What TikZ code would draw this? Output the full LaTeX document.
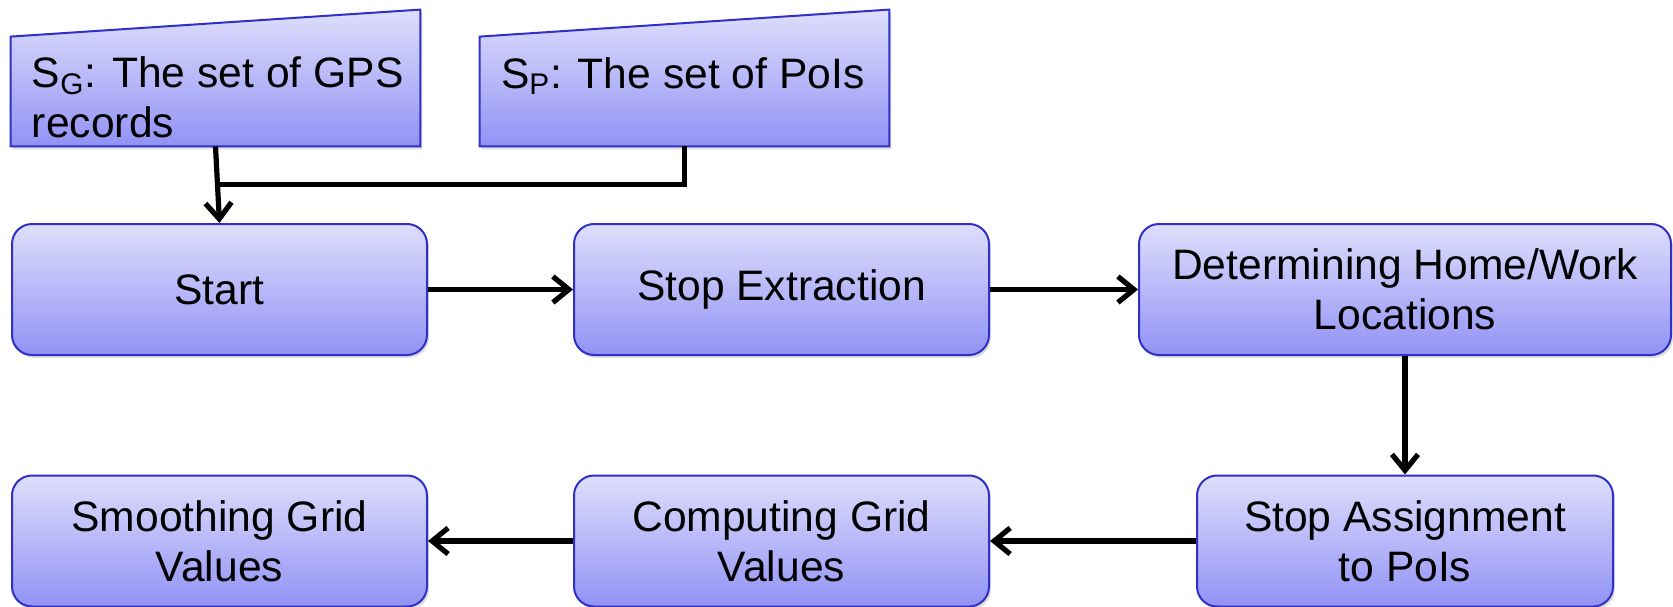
\documentclass[tikz,border=0pt]{standalone}
\usepackage{fontspec}
\setmainfont{Liberation Sans}
\usetikzlibrary{arrows.meta, positioning, calc, shadows}

\definecolor{boxtop}{RGB}{222,222,252}
\definecolor{boxbottom}{RGB}{146,146,246}
\definecolor{boxline}{RGB}{48,48,200}

\tikzset{
  boxfont/.style={font=\fontsize{21.3}{25}\selectfont},
  procbox/.style={rectangle, rounded corners=10pt, draw=boxline, line width=1pt,
    top color=boxtop, bottom color=boxbottom, minimum width=207.5pt, minimum height=65.5pt,
    align=center, boxfont, drop shadow={shadow xshift=1pt, shadow yshift=-1.5pt, opacity=0.25}},
  inbox/.style={rectangle, minimum width=204.5pt, minimum height=54.5pt, inner sep=0pt},
  inshape/.style={top color=boxtop, bottom color=boxbottom, draw=boxline, line width=1pt,
    drop shadow={shadow xshift=1pt, shadow yshift=-1.5pt, opacity=0.25}},
  flow/.style={-{Straight Barb[length=8pt,width=13pt]}, line width=2.6pt},
  link/.style={line width=2.6pt}
}

\begin{document}
\begin{tikzpicture}[x=0.5pt, y=0.5pt]
  \useasboundingbox (0,0) rectangle (1673,606);

  % inputs (manual input shapes)
  \node[inbox] (gps) at (215.5,514.5) {};
  \node[inbox] (pois) at (684.5,514.5) {};
  \shade[inshape] (gps.south west) -- (gps.north west) -- ([yshift=13.5pt]gps.north east) -- (gps.south east) -- cycle;
  \shade[inshape] (pois.south west) -- (pois.north west) -- ([yshift=13.5pt]pois.north east) -- (pois.south east) -- cycle;
  \node[anchor=base west, boxfont, align=left, inner sep=0pt] (gpstext) at ([xshift=10.5pt,yshift=-50.5pt]gps.north west) {S\textsubscript{G}: The set of GPS\\records};
  \node[anchor=base west, boxfont, inner sep=0pt] (poistext) at ([xshift=10.5pt,yshift=-26pt]pois.north west) {S\textsubscript{P}: The set of PoIs};

  % processing steps
  \node[procbox] (start) at (219.5,316.5) {Start};
  \node[procbox] (extract) at (781.5,316.5) {Stop Extraction};
  \node[procbox, minimum width=266pt] (homework) at (1405,316.5) {Determining Home/Work\\Locations};
  \node[procbox, minimum width=208pt] (assign) at (1405,65) {Stop Assignment\\to PoIs};
  \node[procbox] (gridval) at (781.5,65) {Computing Grid\\Values};
  \node[procbox] (smooth) at (219.5,65) {Smoothing Grid\\Values};

  % connectors
  \coordinate (merge) at ($(gps.south)!0.5!(start.north)$);
  \draw[flow] (gps.south) -- (start.north);
  \draw[link] (pois.south) |- (merge);
  \draw[flow] (start) -- (extract);
  \draw[flow] (extract) -- (homework);
  \draw[flow] (homework) -- (assign);
  \draw[flow] (assign) -- (gridval);
  \draw[flow] (gridval) -- (smooth);
\end{tikzpicture}
\end{document}
